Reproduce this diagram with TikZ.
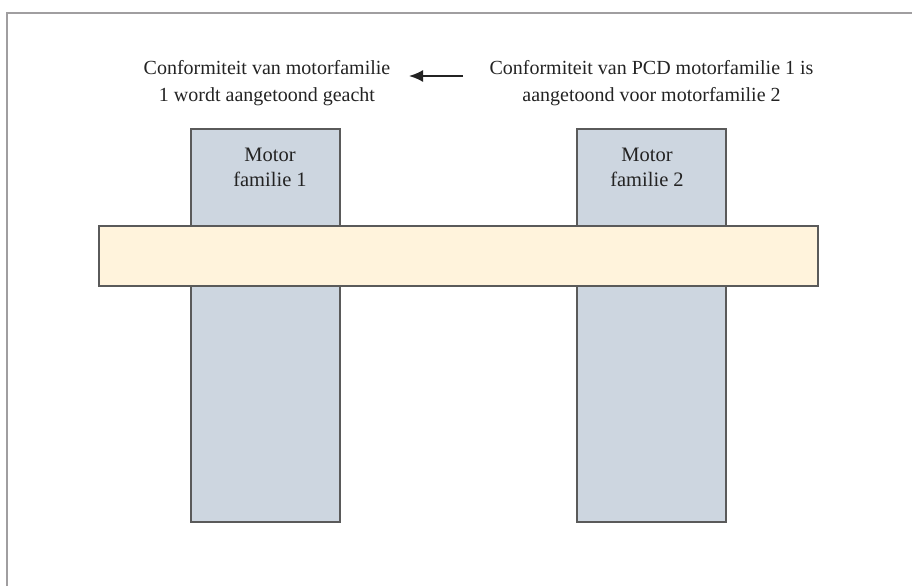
\documentclass[tikz,border=0pt]{standalone}
\usepackage{fontspec}
\setmainfont{Liberation Serif}
\usetikzlibrary{arrows.meta}
\definecolor{framegray}{RGB}{160,158,160}
\definecolor{edgegray}{RGB}{90,90,90}
\definecolor{motorfill}{RGB}{205,214,224}
\definecolor{barfill}{RGB}{255,243,220}
\definecolor{textdark}{RGB}{35,35,35}
\tikzset{
  motorbox/.style={draw=edgegray, fill=motorfill, line width=2pt},
  crossbar/.style={draw=edgegray, fill=barfill, line width=2pt},
  caption/.style={text=textdark, font=\fontsize{20}{27}\selectfont, align=center, inner sep=0pt},
  boxlabel/.style={text=textdark, font=\fontsize{20.5}{25}\selectfont, align=center, inner sep=0pt, anchor=north},
  linkarrow/.style={draw=textdark, line width=1.8pt, -{Latex[length=14pt, width=12pt]}}
}
\begin{document}
\begin{tikzpicture}[x=1pt, y=-1pt]
  \useasboundingbox (0,0) rectangle (912,586);
  % open frame along the top and left sides
  \draw[framegray, line width=2pt] (7,586) -- (7,13.5) -- (912,13.5);
  % the two engine families
  \filldraw[motorbox] (191,129) rectangle (340,522);
  \filldraw[motorbox] (577,129) rectangle (726,522);
  \node[boxlabel] (m1) at (270,148) {Motor\\familie 1};
  \node[boxlabel] (m2) at (647,148) {Motor\\familie 2};
  % shared bar across both families
  \filldraw[crossbar] (99,226) rectangle (818,286);
  % captions
  \node[caption] (left) at (267,83.5) {Conformiteit van motorfamilie\\1 wordt aangetoond geacht};
  \node[caption] (right) at (651.5,83.5) {Conformiteit van PCD motorfamilie 1 is\\aangetoond voor motorfamilie 2};
  \coordinate (tail) at (463,76);
  \coordinate (head) at (409,76);
  \draw[linkarrow] (tail) -- (head);
\end{tikzpicture}
\end{document}
